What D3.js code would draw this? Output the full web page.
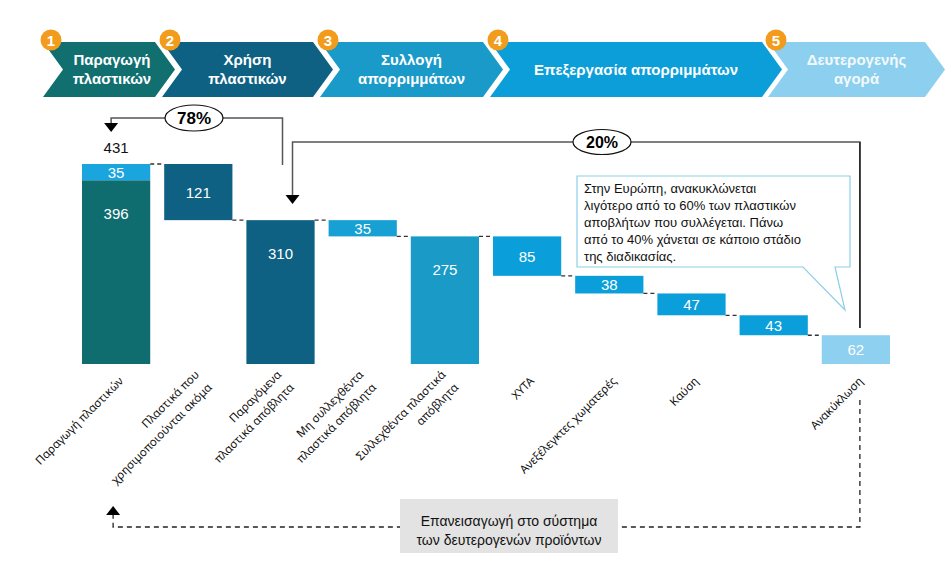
<!DOCTYPE html>
<html><head><meta charset="utf-8">
<script src="https://cdn.jsdelivr.net/npm/d3@7"></script>
<style>body{margin:0;background:#fff}svg{display:block}</style>
</head><body><svg id="c" width="952" height="578"></svg>
<script>
// ---------- data ----------
const stageNumbers = ["1","2","3","4","5"];
const stageLabels = [["Παραγωγή","πλαστικών"],["Χρήση","πλαστικών"],["Συλλογή","απορριμμάτων"],["Επεξεργασία απορριμμάτων"],["Δευτερογενής","αγορά"]];
const categories = [
  ["Παραγωγή πλαστικών"],
  ["Πλαστικά που","χρησιμοποιούνται ακόμα"],
  ["Παραγόμενα","πλαστικά απόβλητα"],
  ["Μη συλλεχθέντα","πλαστικά απόβλητα"],
  ["Συλλεχθέντα πλαστικά","απόβλητα"],
  ["ΧΥΤΑ"],
  ["Ανεξέλεγκτες χωματερές"],
  ["Καύση"],
  [],
  ["Ανακύκλωση"]
];
const values = [396,121,310,35,275,85,38,47,43,62];
const topValues = [35,0,0,0,0,0,0,0,0,0];
const barKinds = ["total","delta","total","delta","total","delta","delta","delta","delta","total"];
const totalLabel = "431";
const shareLabels = ["78%","20%"];
const calloutLines = ["Στην Ευρώπη, ανακυκλώνεται","λιγότερο από το 60% των πλαστικών","αποβλήτων που συλλέγεται. Πάνω","από το 40% χάνεται σε κάποιο στάδιο","της διαδικασίας."];
const loopLines = ["Επανεισαγωγή στο σύστημα","των δευτερογενών προϊόντων"];

// ---------- styles ----------
const stageColors = ["#116f70","#0f6183","#1a9ac8","#0b9ed9","#8dcfee"];
const barColors = ["#0f6d6f","#0f6183","#0f6183","#16a0d3","#1a9ac6","#0a9fda","#0a9fda","#0a9fda","#0a9fda","#8dd0ef"];
const topColor = "#1aa5de";
const sans = "'Liberation Sans', Arial, sans-serif";

const svg = d3.select("#c");

// ---------- header chevrons ----------
const hTop=42, hBot=97, hMid=(hTop+hBot)/2, depth=20;
const lefts=[43,162,320,490,768], shoulders=[155,313,483,762,925];
const g0 = svg.append("g");
stageLabels.forEach((lines,i)=>{
  const l=lefts[i], s=shoulders[i], n=l+depth, t=s+depth;
  g0.append("path").attr("d",`M${l},${hTop}L${s},${hTop}L${t},${hMid}L${s},${hBot}L${l},${hBot}L${n},${hMid}Z`).attr("fill",stageColors[i]);
  const cx=(n+s)/2 + (i===0?3:0);
  const txt=g0.append("text").attr("x",cx).attr("text-anchor","middle").attr("font-family",sans).attr("font-weight","bold").attr("font-size",15).attr("fill",i===4?"#f2fafd":"#fff");
  const y0 = hMid + 5 - (lines.length-1)*9.5;
  lines.forEach((ln,j)=>txt.append("tspan").attr("x",cx).attr("y",y0+j*19).text(ln));
  g0.append("circle").attr("cx",l+8).attr("cy",40).attr("r",10.5).attr("fill","#f29c1e");
  g0.append("text").attr("x",l+8).attr("y",45.5).attr("text-anchor","middle").attr("font-family",sans).attr("font-weight","bold").attr("font-size",15).attr("fill","#fff").text(stageNumbers[i]);
});

// ---------- waterfall ----------
const x = d3.scaleBand().domain(d3.range(values.length)).range([82,890]).paddingInner(0.17).paddingOuter(0);
const y = d3.scaleLinear().domain([0,431]).range([364,164]);
let level=0;
const bars = values.map((v,i)=>{
  let lo,hi;
  if(barKinds[i]==="total"){lo=0;hi=v;level=v+topValues[i];}
  else{hi=level;lo=level-v;level=lo;}
  return {i,v,lo,hi,top:topValues[i],end:barKinds[i]==="total"?v+topValues[i]:lo};
});
const gb=svg.append("g");
bars.forEach(b=>{
  gb.append("rect").attr("x",x(b.i)).attr("width",x.bandwidth()).attr("y",y(b.hi)).attr("height",y(b.lo)-y(b.hi)).attr("fill",barColors[b.i]);
  if(b.top){
    gb.append("rect").attr("x",x(b.i)).attr("width",x.bandwidth()).attr("y",y(b.hi+b.top)).attr("height",y(b.hi)-y(b.hi+b.top)).attr("fill",topColor);
    gb.append("text").attr("x",x(b.i)+x.bandwidth()/2).attr("y",(y(b.hi+b.top)+y(b.hi))/2+5.5).attr("text-anchor","middle").attr("font-family",sans).attr("font-size",15).attr("fill","#fff").text(b.top);
  }
  const yt=y(b.hi), yb=y(b.lo);
  const ly=Math.min((yt+yb)/2, yt+33);
  gb.append("text").attr("x",x(b.i)+x.bandwidth()/2).attr("y",ly+5.5).attr("text-anchor","middle").attr("font-family",sans).attr("font-size",15).attr("fill","#fff").text(b.v);
});
// total label
gb.append("text").attr("x",x(0)+x.bandwidth()/2).attr("y",y(431)-11).attr("text-anchor","middle").attr("font-family",sans).attr("font-size",15).attr("fill","#111").text(totalLabel);
// connectors
bars.slice(0,-1).forEach(b=>{
  gb.append("line").attr("x1",x(b.i)+x.bandwidth()).attr("x2",x(b.i+1)).attr("y1",y(b.end)).attr("y2",y(b.end)).attr("stroke","#333").attr("stroke-width",1.3).attr("stroke-dasharray","4,3");
});

// rotated category labels
const gl=svg.append("g");
categories.forEach((lines,i)=>{
  if(!lines.length) return;
  const cx=x(i)+x.bandwidth()/2;
  const lh=18;
  const ax=cx+5, ay=379;
  const t=gl.append("text").attr("transform",`translate(${ax},${ay}) rotate(-45)`).attr("text-anchor","end").attr("font-family","'Noto Sans', sans-serif").attr("font-size",11.5).attr("fill","#111");
  lines.forEach((ln,j)=>t.append("tspan").attr("x",0).attr("y",(j-(lines.length-1)/2)*lh+4).text(ln));
});

// ---------- annotations ----------
const ga=svg.append("g");
function arrowHead(px,py){ // tip pointing down
  ga.append("path").attr("d",`M${px-7},${py-9}L${px+7},${py-9}L${px},${py}Z`).attr("fill","#000");
}
const c0=x(0)+x.bandwidth()/2-5, c2=x(2)+x.bandwidth()/2;
ga.append("path").attr("d",`M${c2+2},165V118H${c0}V124`).attr("fill","none").attr("stroke","#555").attr("stroke-width",1.5);
arrowHead(c0,132);
ga.append("ellipse").attr("cx",194).attr("cy",118).attr("rx",29).attr("ry",13).attr("fill","#fff").attr("stroke","#111").attr("stroke-width",1.2);
ga.append("text").attr("x",194).attr("y",124).attr("text-anchor","middle").attr("font-family",sans).attr("font-weight","bold").attr("font-size",17).text(shareLabels[0]);

const c9=x(9)+x.bandwidth()/2+4;
ga.append("path").attr("d",`M${c2+12},196V142H${c9}V328`).attr("fill","none").attr("stroke","#555").attr("stroke-width",1.5);
ga.append("path").attr("d",`M${c9},142V328`).attr("stroke","#222").attr("stroke-width",1.5);
arrowHead(c2+12,204);
ga.append("ellipse").attr("cx",602).attr("cy",142).attr("rx",29).attr("ry",12.5).attr("fill","#fff").attr("stroke","#111").attr("stroke-width",1.2);
ga.append("text").attr("x",602).attr("y",148).attr("text-anchor","middle").attr("font-family",sans).attr("font-weight","bold").attr("font-size",16).text(shareLabels[1]);

// callout
ga.append("path").attr("d","M577,176H850V267H835L845,310L803,267H577Z").attr("fill","#fff").attr("stroke","#8ccfe6").attr("stroke-width",1.2);
const ct=ga.append("text").attr("font-family",sans).attr("font-size",13).attr("fill","#111");
calloutLines.forEach((ln,j)=>ct.append("tspan").attr("x",584).attr("y",193+j*17).text(ln));

// loop back dashed
ga.append("path").attr("d",`M${c9},400V527H${c0+2}V514`).attr("fill","none").attr("stroke","#222").attr("stroke-width",1.3).attr("stroke-dasharray","5,4");
ga.append("path").attr("d",`M${c0-5},515L${c0+9},515L${c0+2},506Z`).attr("fill","#000");
ga.append("rect").attr("x",400).attr("y",499).attr("width",218).attr("height",54).attr("fill","#e3e3e3");
const lt=ga.append("text").attr("text-anchor","middle").attr("font-family",sans).attr("font-size",14).attr("fill","#111");
loopLines.forEach((ln,j)=>lt.append("tspan").attr("x",509).attr("y",526+j*19).text(ln));
</script></body></html>
